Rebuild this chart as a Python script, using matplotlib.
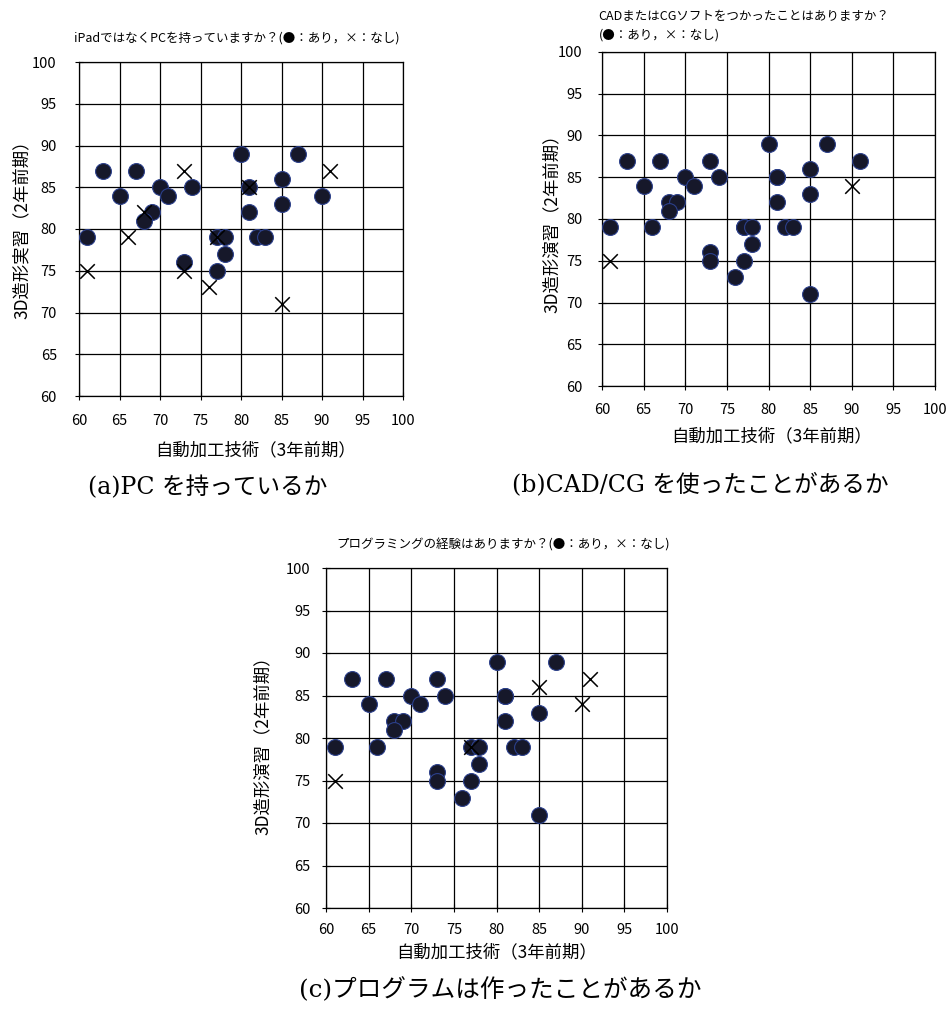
# coding:utf-8

import numpy as np
import matplotlib
matplotlib.use("Agg")
import matplotlib.pyplot as plt

plt.rcParams['font.family'] = ['Noto Sans CJK JP', 'DejaVu Sans']

# 学生ごとの成績 (x: 自動加工技術, y: 3D造形演習)
score_x = [80, 87, 63, 67, 73, 91, 85, 70, 74, 81, 81, 65, 71, 90, 85, 68, 69,
           81, 68, 61, 66, 77, 77, 78, 82, 83, 78, 73, 73, 77, 61, 76, 85]
score_y = [89, 89, 87, 87, 87, 87, 86, 85, 85, 85, 85, 84, 84, 84, 83, 82, 82,
           82, 81, 79, 79, 79, 79, 79, 79, 79, 77, 76, 75, 75, 75, 73, 71]

# 1: あり, 0: なし
has_pc  = [1, 1, 1, 1, 0, 0, 1, 1, 1, 1, 0, 1, 1, 1, 1, 0, 1,
           1, 1, 1, 0, 0, 1, 1, 1, 1, 1, 1, 0, 1, 0, 0, 0]
used_cg = [1, 1, 1, 1, 1, 1, 1, 1, 1, 1, 1, 1, 1, 0, 1, 1, 1,
           1, 1, 1, 1, 1, 1, 1, 1, 1, 1, 1, 1, 1, 0, 1, 1]
has_prog = [1, 1, 1, 1, 1, 0, 0, 1, 1, 1, 1, 1, 1, 0, 1, 1, 1,
            1, 1, 1, 1, 0, 1, 1, 1, 1, 1, 1, 1, 1, 0, 1, 1]

titles = ["iPadではなくPCを持っていますか？(●：あり，×：なし)",
          "CADまたはCGソフトをつかったことはありますか？\n(●：あり，×：なし)",
          "プログラミングの経験はありますか？(●：あり，×：なし)"]
ylabels = ["3D造形実習（2年前期）", "3D造形演習（2年前期）", "3D造形演習（2年前期）"]
captions = ["(a)PC を持っているか", "(b)CAD/CG を使ったことがあるか",
            "(c)プログラムは作ったことがあるか"]

fig = plt.figure(figsize=(9.47, 10.14), dpi=100)
W, H = 947.0, 1014.0

# axes boxes in pixels: left, top, right, bottom
boxes = [(79, 62, 403, 396), (602, 52, 935, 386), (326, 568, 667, 908)]
flags = [has_pc, used_cg, has_prog]
tick_pads = [(10, 13), (9, 11), (8, 8)]           # x, y
xlab_pos = [(0.545, -0.162), (0.509, -0.152), (0.50, -0.13)]
ylab_pos = [(-0.177, 0.51), (-0.151, 0.5), (-0.185, 0.49)]

x = np.array(score_x)
y = np.array(score_y)

for i in range(3):
    l, t, r, b = boxes[i]
    ax = fig.add_axes([l / W, 1 - b / H, (r - l) / W, (b - t) / H])
    f = np.array(flags[i])
    ax.scatter(x[f == 1], y[f == 1], marker='o', s=130, c='#16182a',
               edgecolors='#2b3f8a', linewidths=0.8, zorder=3)
    ax.scatter(x[f == 0], y[f == 0], marker='x', s=110, c='black',
               linewidths=1.1, zorder=4)
    ax.set_xlim(60, 100)
    ax.set_ylim(60, 100)
    ax.set_xticks(range(60, 101, 5))
    ax.set_yticks(range(60, 101, 5))
    ax.grid(True, color='black', linewidth=0.9)
    ax.set_axisbelow(True)
    for s in ax.spines.values():
        s.set_color('black')
        s.set_linewidth(0.9)
    ax.tick_params(direction='inout', length=6, labelsize=10.5)
    ax.tick_params(axis='x', pad=tick_pads[i][0])
    ax.tick_params(axis='y', pad=tick_pads[i][1])
    ax.set_xlabel("自動加工技術（3年前期）", fontsize=12.5, va='center')
    ax.set_ylabel(ylabels[i], fontsize=12.5, va='center')
    ax.xaxis.set_label_coords(*xlab_pos[i])
    ax.yaxis.set_label_coords(*ylab_pos[i])
    if i == 1:
        ax.set_title(titles[i], fontsize=9, loc='left', x=-0.01, pad=10,
                     linespacing=1.5)
    elif i == 0:
        ax.set_title(titles[i], fontsize=9, loc='left', x=-0.015, pad=15)
    else:
        ax.set_title(titles[i], fontsize=9, x=0.52, pad=14)

serif = ['DejaVu Serif', 'Noto Sans CJK JP']
fig.text(88 / W, 1 - 487 / H, captions[0], fontsize=17, family=serif,
         va='center', ha='left')
fig.text(512 / W, 1 - 484 / H, captions[1], fontsize=17, family=serif,
         va='center', ha='left')
fig.text(500 / W, 1 - 990 / H, captions[2], fontsize=17.7, family=serif,
         va='center', ha='center')

plt.savefig("out.png", dpi=100)
